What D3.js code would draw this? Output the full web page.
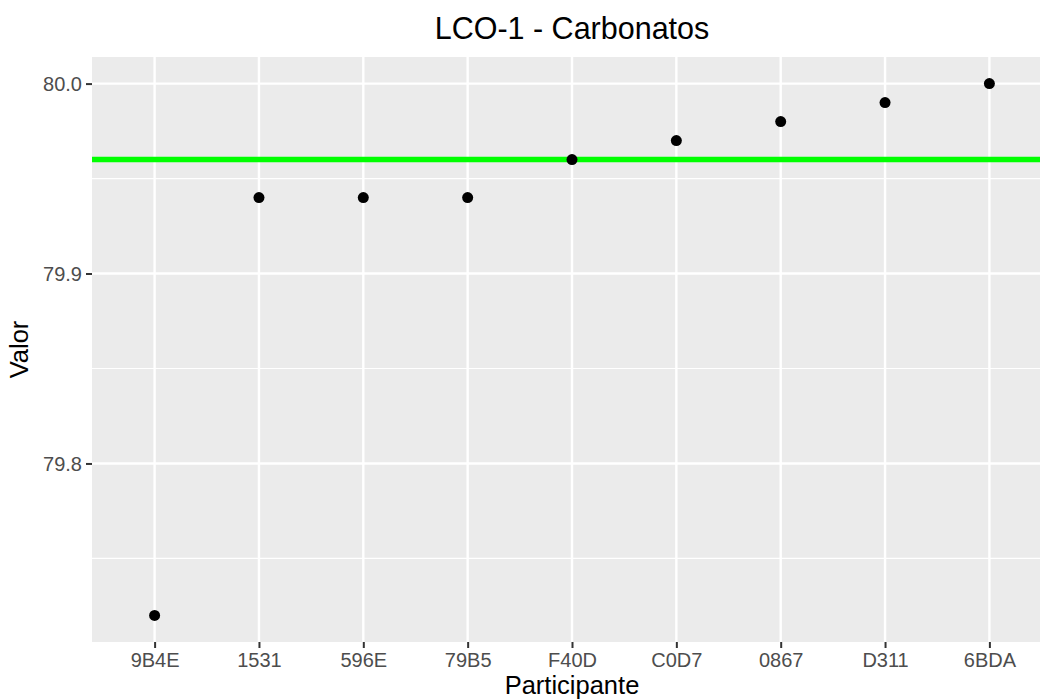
<!DOCTYPE html>
<html lang="en">
<head>
<meta charset="utf-8">
<title>LCO-1 - Carbonatos</title>
<script src="https://d3js.org/d3.v7.min.js"></script>
<style>
  body { margin: 0; background: #fff; }
  svg { display: block; font-family: "Liberation Sans", Arial, sans-serif; }
</style>
</head>
<body>
<script>
// data
var participants = ["9B4E", "1531", "596E", "79B5", "F40D", "C0D7", "0867", "D311", "6BDA"];
var values = [79.72, 79.94, 79.94, 79.94, 79.96, 79.97, 79.98, 79.99, 80.00];
var refValue = 79.96;
var yTicks = [79.8, 79.9, 80.0];
var yMinor = [79.75, 79.85, 79.95];

var width = 1040, height = 699;
var panel = { left: 92, right: 1052, top: 57, bottom: 642 };

var svg = d3.select("body").append("svg")
  .attr("width", width)
  .attr("height", height);

// ggplot style: discrete axis gets 0.6 units padding on each side
var x = d3.scalePoint()
  .domain(participants)
  .range([panel.left, panel.right])
  .padding(0.6);

var yMin = d3.min(values), yMax = d3.max(values);
var pad = (yMax - yMin) * 0.05;
var y = d3.scaleLinear()
  .domain([yMin - pad, yMax + pad])
  .range([panel.bottom, panel.top]);

svg.append("rect")
  .attr("x", panel.left)
  .attr("y", panel.top)
  .attr("width", panel.right - panel.left)
  .attr("height", panel.bottom - panel.top)
  .attr("fill", "#ebebeb");

// minor grid
svg.selectAll(".minor")
  .data(yMinor)
  .enter().append("line")
  .attr("x1", panel.left).attr("x2", panel.right)
  .attr("y1", function(d) { return y(d); })
  .attr("y2", function(d) { return y(d); })
  .attr("stroke", "#fff")
  .attr("stroke-width", 1.2);

// major grid
svg.selectAll(".hmajor")
  .data(yTicks)
  .enter().append("line")
  .attr("x1", panel.left).attr("x2", panel.right)
  .attr("y1", function(d) { return y(d); })
  .attr("y2", function(d) { return y(d); })
  .attr("stroke", "#fff")
  .attr("stroke-width", 2.4);

svg.selectAll(".vmajor")
  .data(participants)
  .enter().append("line")
  .attr("x1", function(d) { return x(d); })
  .attr("x2", function(d) { return x(d); })
  .attr("y1", panel.top).attr("y2", panel.bottom)
  .attr("stroke", "#fff")
  .attr("stroke-width", 2.4);

// reference line
svg.append("line")
  .attr("x1", panel.left).attr("x2", panel.right)
  .attr("y1", y(refValue)).attr("y2", y(refValue))
  .attr("stroke", "#00ff00")
  .attr("stroke-width", 5.5);

// points
svg.selectAll(".pt")
  .data(participants)
  .enter().append("circle")
  .attr("cx", function(d) { return x(d); })
  .attr("cy", function(d, i) { return y(values[i]); })
  .attr("r", 5.5)
  .attr("fill", "#000");

// axes
var yAxis = d3.axisLeft(y)
  .tickValues(yTicks)
  .tickFormat(d3.format(".1f"))
  .tickSize(6)
  .tickPadding(4);

var xAxis = d3.axisBottom(x)
  .tickSize(6)
  .tickPadding(5);

var gy = svg.append("g")
  .attr("transform", "translate(" + panel.left + ",0)")
  .call(yAxis);

var gx = svg.append("g")
  .attr("transform", "translate(0," + panel.bottom + ")")
  .call(xAxis);

[gx, gy].forEach(function(g) {
  g.select(".domain").remove();
  g.selectAll(".tick line").attr("stroke", "#333").attr("stroke-width", 2);
  g.selectAll(".tick text")
    .attr("fill", "#4d4d4d")
    .attr("font-size", 20)
    .attr("font-family", "Liberation Sans, Arial, sans-serif");
});

gy.selectAll(".tick text").attr("dy", "0.35em");

// titles
svg.append("text")
  .attr("x", (panel.left + panel.right) / 2)
  .attr("y", 39)
  .attr("text-anchor", "middle")
  .attr("font-size", 30.5)
  .attr("fill", "#000")
  .text("LCO-1 - Carbonatos");

svg.append("text")
  .attr("x", (panel.left + panel.right) / 2)
  .attr("y", 694)
  .attr("text-anchor", "middle")
  .attr("font-size", 25.5)
  .attr("fill", "#000")
  .text("Participante");

svg.append("text")
  .attr("transform", "translate(28," + (panel.top + panel.bottom) / 2 + ") rotate(-90)")
  .attr("text-anchor", "middle")
  .attr("font-size", 25.5)
  .attr("fill", "#000")
  .text("Valor");
</script>
</body>
</html>
